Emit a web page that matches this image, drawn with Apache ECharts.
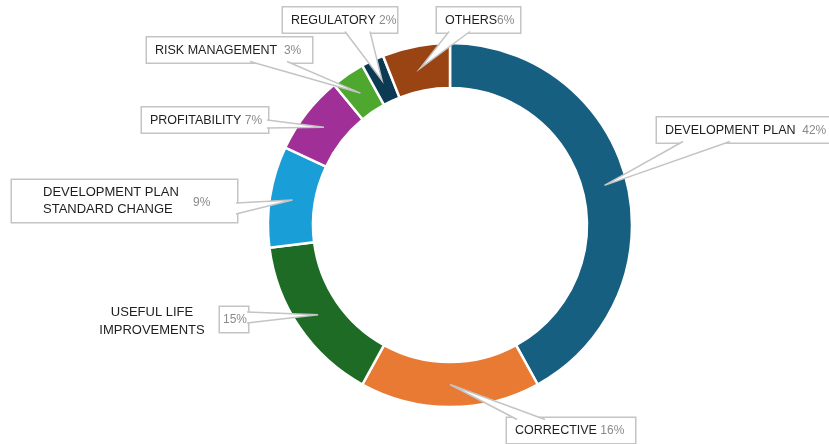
<!DOCTYPE html>
<html>
<head>
<meta charset="utf-8">
<script src="https://cdn.jsdelivr.net/npm/echarts@6/dist/echarts.min.js"></script>
<style>html,body{margin:0;padding:0;background:#fff}#c{width:829px;height:444px}</style>
</head>
<body>
<div id="c"></div>
<script>
// ---- data ----
const categories = ['DEVELOPMENT PLAN', 'CORRECTIVE', 'USEFUL LIFE\nIMPROVEMENTS', 'DEVELOPMENT PLAN\nSTANDARD CHANGE', 'PROFITABILITY', 'RISK MANAGEMENT', 'REGULATORY', 'OTHERS'];
const values = [42, 16, 15, 9, 7, 3, 2, 6];
const percentLabels = ['42%', '16%', '15%', '9%', '7%', '3%', '2%', '6%'];

// ---- styling / layout (not data) ----
const colors = ['#175f80', '#e97a33', '#1d6b24', '#1a9ed8', '#a02f98', '#4ea82f', '#0c3a52', '#9b4413'];
// [left x, middle y] of each name label, and box outer width
const namePos = [[657, 130], [507, 430.5], [152, 321], [12, 201], [142, 120], [147, 50], [283, 20], [437, 20]];
const boxWidth = [210, 128, 0, 225, 126, 165, 114, 83];
const nameGap = ['  ', ' ', '', '', ' ', '  ', ' ', ''];
const pctPos = [null, null, [220, 319.5], [193, 203], null, null, null, null];
// callout wedge base points (on the label box edge)
const wedgeBase = [
  [[683, 141.5], [730, 141.5]],
  [[517, 419.5], [545, 419.5]],
  [[247, 312], [247, 323]],
  [[236, 203], [236, 214]],
  [[267, 120], [267, 128]],
  [[250, 61.5], [287, 61.5]],
  [[345, 31.5], [370, 31.5]],
  [[449, 31.5], [470, 31.5]]
];
const GRAY = '#c4c4c4';
const FONT = "'Liberation Sans', Arial, sans-serif";

const rich = {
  n: { color: '#1e1e1e', fontSize: 12.5, fontFamily: FONT, lineHeight: 16 },
  p: { color: '#8a8a8a', fontSize: 12, fontFamily: FONT, lineHeight: 16 }
};

const labelData = values.map((v, i) => {
  const item = { value: v, name: categories[i] };
  if (i === 2) {
    item.label = { show: true, color: '#1e1e1e', fontSize: 13, fontFamily: FONT, lineHeight: 18,
      formatter: categories[i] };
  } else if (i === 3) {
    item.label = {
      show: true, backgroundColor: '#fff', borderColor: GRAY, borderWidth: 1.5,
      formatter: categories[i], color: '#1e1e1e', fontSize: 13, fontFamily: FONT, lineHeight: 17,
      padding: [4, 8, 4, 31], width: boxWidth[i] - 39, overflow: 'none'
    };
  } else {
    item.label = {
      show: true, backgroundColor: '#fff', borderColor: GRAY, borderWidth: 1.5,
      padding: [5, 6, 4, 8], rich: rich, width: boxWidth[i] - 14, overflow: 'none',
      formatter: '{n|' + categories[i] + '}' + nameGap[i] + '{p|' + percentLabels[i] + '}'
    };
  }
  return item;
});

const pctData = values.map((v, i) => {
  const item = { value: v, name: categories[i] };
  if (i === 2) {
    item.label = { show: true, formatter: percentLabels[i], color: '#8a8a8a', fontSize: 12, fontFamily: FONT,
      lineHeight: 16, backgroundColor: '#fff', borderColor: GRAY, borderWidth: 1.5, padding: [5, 2, 4, 3],
      width: 23, overflow: 'none' };
  } else if (i === 3) {
    item.label = { show: true, formatter: percentLabels[i], color: '#8a8a8a', fontSize: 12, fontFamily: FONT };
  } else {
    item.label = { show: false };
  }
  return item;
});

const common = {
  type: 'pie',
  center: [450, 225],
  radius: [137, 182],
  startAngle: 90,
  clockwise: true,
  avoidLabelOverlap: false,
  animation: false
};

const chart = echarts.init(document.getElementById('c'), null, { renderer: 'canvas' });
chart.setOption({
  backgroundColor: '#fff',
  color: colors,
  series: [
    Object.assign({}, common, {
      z: 2,
      itemStyle: { borderColor: '#fff', borderWidth: 2.5 },
      label: { show: false },
      labelLine: { show: false },
      data: values.map((v, i) => ({ value: v, name: categories[i] }))
    }),
    Object.assign({}, common, {
      z: 4, silent: true,
      itemStyle: { color: 'transparent', borderWidth: 0 },
      label: { position: 'outside' },
      labelLine: { show: false },
      labelLayout: function (p) {
        const pos = namePos[p.dataIndex];
        if (p.dataIndex === 2) return { x: pos[0], y: pos[1], align: 'center', verticalAlign: 'middle' };
        return { x: pos[0], y: pos[1], align: 'left', verticalAlign: 'middle' };
      },
      data: labelData
    }),
    Object.assign({}, common, {
      z: 4, silent: true,
      itemStyle: { color: 'transparent', borderWidth: 0 },
      label: { position: 'outside' },
      labelLine: { show: false },
      labelLayout: function (p) {
        const pos = pctPos[p.dataIndex];
        if (!pos) return {};
        return { x: pos[0], y: pos[1], align: 'left', verticalAlign: 'middle' };
      },
      data: pctData
    })
  ]
});

// callout wedges: tip placed inside each slice using the pie's own layout
const sData = chart.getModel().getSeriesByIndex(0).getData();
const wedges = [];
values.forEach((v, i) => {
  const L = sData.getItemLayout(i);
  const mid = (L.startAngle + L.endAngle) / 2;
  const rr = (L.r0 + L.r) / 2;
  const tip = [L.cx + rr * Math.cos(mid), L.cy + rr * Math.sin(mid)];
  const b = wedgeBase[i];
  wedges.push({
    type: 'polygon', z: 5, silent: true,
    shape: { points: [b[0], tip, b[1]] },
    style: { fill: '#fff', stroke: null }
  });
  wedges.push({
    type: 'polyline', z: 5, silent: true,
    shape: { points: [b[0], tip, b[1]] },
    style: { fill: null, stroke: GRAY, lineWidth: 1.5 }
  });
});
chart.setOption({ graphic: { elements: wedges } });
</script>
</body>
</html>
